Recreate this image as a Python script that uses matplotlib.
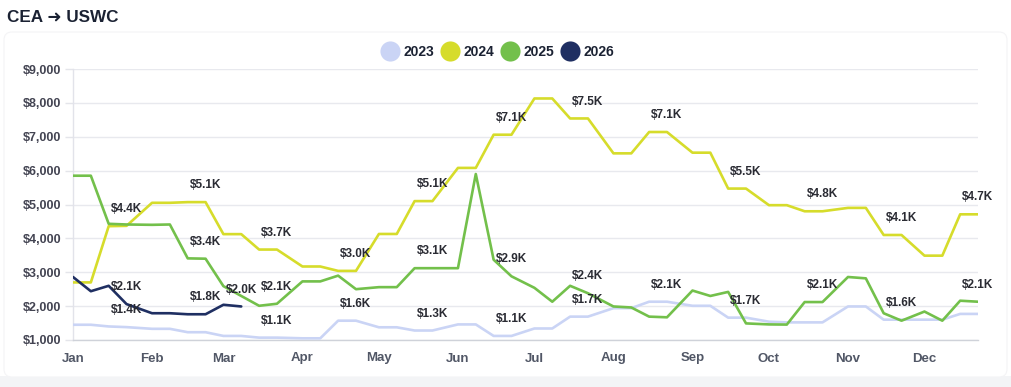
import matplotlib
matplotlib.use("Agg")
import matplotlib.pyplot as plt
import matplotlib.dates as mdates
from matplotlib.lines import Line2D
from matplotlib.patches import FancyBboxPatch, Rectangle
from matplotlib.ticker import FuncFormatter
from datetime import date

# ---------------- data ----------------
TITLE = "CEA \u279C USWC"
YEAR_AXIS = 2023  # display year used to place the month/day points
MONTHS = ["Jan", "Feb", "Mar", "Apr", "May", "Jun",
          "Jul", "Aug", "Sep", "Oct", "Nov", "Dec"]
POINT_DAYS = [1, 8, 15, 22]

series_names = ["2023", "2024", "2025", "2026"]

values_2023 = [1450, 1450, 1400, 1380, 1330, 1330, 1230, 1230,
               1120, 1120, 1070, 1070, 1050, 1050, 1570, 1570,
               1375, 1375, 1280, 1280, 1460, 1460, 1120, 1120,
               1340, 1340, 1690, 1690, 1940, 1940, 2130, 2130,
               2010, 2010, 1660, 1660, 1540, 1520, 1520, 1520,
               1990, 1990, 1600, 1600, 1600, 1600, 1770, 1770]

values_2024 = [2700, 2700, 4360, 4370, 5050, 5050, 5070, 5070,
               4125, 4125, 3670, 3670, 3170, 3170, 3040, 3040,
               4130, 4130, 5100, 5100, 6080, 6080, 7060, 7060,
               8130, 8130, 7540, 7540, 6510, 6510, 7140, 7140,
               6530, 6530, 5470, 5470, 4980, 4980, 4800, 4800,
               4900, 4900, 4100, 4100, 3490, 3490, 4710, 4710]

values_2025 = [5850, 5850, 4430, 4410, 4400, 4410, 3410, 3400,
               2590, 2300, 2010, 2070, 2730, 2730, 2900, 2500,
               2560, 2560, 3120, 3120, 3120, 5900, 3370, 2880,
               2540, 2130, 2600, 2380, 1990, 1960, 1690, 1670,
               2460, 2300, 2420, 1490, 1460, 1455, 2120, 2120,
               2860, 2820, 1790, 1570, 1840, 1570, 2160, 2130]

values_2026 = [2860, 2440, 2600, 2060, 1790, 1790, 1760, 1760,
               2040, 1990]

# indices of points that carry a visible value label
labels_2023 = [3, 11, 15, 19, 23, 27, 31, 35, 43]
labels_2024 = [3, 7, 11, 15, 19, 23, 27, 31, 35, 39, 43, 47]
labels_2025 = [7, 11, 19, 23, 27, 39, 47]
labels_2026 = [3, 7, 9]

colors = ["#cad4f5", "#d6dc2b", "#73c04b", "#1f2f62"]

y_ticks = [1000, 2000, 3000, 4000, 5000, 6000, 7000, 8000, 9000]

# ---------------- figure ----------------
W, H = 1011, 387
fig = plt.figure(figsize=(W / 100, H / 100), dpi=100)
fig.patch.set_facecolor("white")

FONT = ["Liberation Sans", "DejaVu Sans"]
plt.rcParams["font.family"] = FONT

# page background strip + card
fig.patches.append(Rectangle((0, 0), 1, 11 / H, transform=fig.transFigure,
                             facecolor="#f3f4f6", edgecolor="none", zorder=-20))
fig.patches.append(FancyBboxPatch((4 / 100, 10 / 100), (1003) / 100, (345) / 100,
                                  boxstyle="round,pad=0,rounding_size=0.08",
                                  transform=fig.dpi_scale_trans,
                                  facecolor="white", edgecolor="#f4f4f6",
                                  linewidth=0.8, zorder=-10))

fig.text(7 / W, 1 - 18 / H, TITLE, fontsize=12.3, fontweight="bold",
         color="#1b2233", va="center", ha="left", family=FONT)

ax = fig.add_axes([73 / W, 1 - 340 / H, (978 - 73) / W, (340 - 69) / H])
ax.set_facecolor("none")

point_dates = [date(YEAR_AXIS, m, d) for m in range(1, 13) for d in POINT_DAYS]
xs_all = mdates.date2num(point_dates)

all_values = [values_2023, values_2024, values_2025, values_2026]
all_labels = [labels_2023, labels_2024, labels_2025, labels_2026]

for name, vals, col in zip(series_names, all_values, colors):
    ax.plot(xs_all[:len(vals)], vals, color=col, lw=1.9,
            solid_joinstyle="round", solid_capstyle="round", zorder=3)

for vals, idxs in zip(all_values, all_labels):
    for i in idxs:
        v = vals[i]
        ax.annotate(f"${v / 1000:.1f}K", (xs_all[i], v), xytext=(0, 12.2),
                    textcoords="offset points", ha="center", va="center",
                    fontsize=8.5, fontweight="bold", color="#2a2b33",
                    annotation_clip=False, zorder=10)

ax.set_xlim(mdates.date2num(date(YEAR_AXIS, 1, 1)),
            mdates.date2num(date(YEAR_AXIS, 12, 22)))
ax.set_ylim(y_ticks[0], y_ticks[-1])
ax.set_yticks(y_ticks)
ax.yaxis.set_major_formatter(FuncFormatter(lambda v, p: f"${v:,.0f}"))
ax.set_xticks(mdates.date2num([date(YEAR_AXIS, m, 1) for m in range(1, 13)]))
ax.set_xticklabels(MONTHS)

ax.grid(axis="y", color="#e8e9ee", lw=1, zorder=0)
ax.tick_params(axis="y", length=5.8, width=1, color="#e4e5ea", pad=2.5,
               labelsize=9, labelcolor="#434452")
ax.tick_params(axis="x", length=0, pad=9, labelsize=9.5, labelcolor="#515766")
for lab in ax.get_yticklabels() + ax.get_xticklabels():
    lab.set_fontweight("bold")

for s in ["top", "right"]:
    ax.spines[s].set_visible(False)
ax.spines["left"].set_color("#e2e3ea")
ax.spines["left"].set_linewidth(1)
ax.spines["bottom"].set_color("#cfd2d9")
ax.spines["bottom"].set_linewidth(1)

handles = [Line2D([], [], ls="", marker="o", markersize=14.5, color=c,
                  markeredgewidth=0) for c in colors]
leg = fig.legend(handles, series_names, loc="center",
                 bbox_to_anchor=(498 / W, 1 - 52.3 / H), ncol=4, frameon=False,
                 fontsize=10, handlelength=1.2, handletextpad=0.4,
                 columnspacing=0.5, borderpad=0.2)
for t in leg.get_texts():
    t.set_fontweight("bold")
    t.set_color("#1b2233")

fig.savefig("out.png", dpi=100, facecolor="white")
